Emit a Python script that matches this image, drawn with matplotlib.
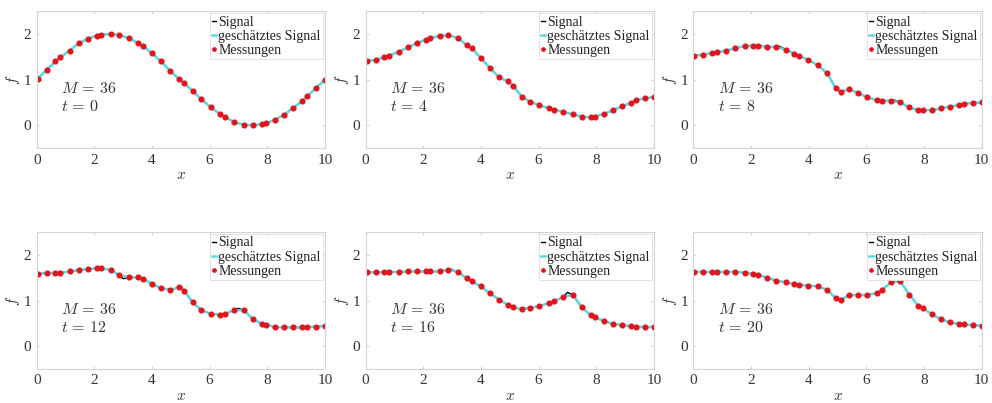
import matplotlib
matplotlib.use("Agg")
import matplotlib.pyplot as plt
import numpy as np

# Messpunkte (gleich in allen Panels)
x_mess = [0.03, 0.35, 0.65, 0.82, 1.14, 1.46, 1.78, 2.08, 2.23, 2.57,
          2.87, 3.21, 3.50, 3.68, 3.99, 4.31, 4.64, 4.94, 5.11, 5.41,
          5.71, 6.03, 6.37, 6.54, 6.86, 7.18, 7.49, 7.80, 7.95, 8.27,
          8.59, 8.90, 9.21, 9.39, 9.69, 10.0]

t_values = [0, 4, 8, 12, 16, 20]

f_t0 = [1.02, 1.22, 1.40, 1.49, 1.64, 1.80, 1.90, 1.97, 1.99, 2.00,
        1.98, 1.91, 1.81, 1.74, 1.59, 1.40, 1.19, 1.01, 0.93, 0.75,
        0.57, 0.40, 0.24, 0.17, 0.07, 0.01, 0.00, 0.02, 0.04, 0.12,
        0.23, 0.38, 0.53, 0.64, 0.82, 1.00]
f_t4 = [1.42, 1.43, 1.50, 1.53, 1.61, 1.71, 1.80, 1.88, 1.91, 1.96,
        1.98, 1.91, 1.76, 1.69, 1.48, 1.26, 1.05, 0.96, 0.87, 0.63,
        0.51, 0.44, 0.37, 0.34, 0.29, 0.24, 0.19, 0.17, 0.19, 0.25,
        0.33, 0.42, 0.49, 0.55, 0.59, 0.62]
f_t8 = [1.53, 1.55, 1.59, 1.60, 1.64, 1.69, 1.74, 1.75, 1.75, 1.72,
        1.72, 1.66, 1.57, 1.52, 1.43, 1.32, 1.14, 0.81, 0.73, 0.79,
        0.71, 0.61, 0.55, 0.53, 0.54, 0.50, 0.39, 0.33, 0.33, 0.33,
        0.37, 0.41, 0.44, 0.47, 0.49, 0.50]
f_t12 = [1.59, 1.60, 1.61, 1.61, 1.64, 1.67, 1.69, 1.71, 1.71, 1.67,
         1.56, 1.51, 1.51, 1.48, 1.37, 1.27, 1.24, 1.29, 1.22, 0.96,
         0.79, 0.71, 0.69, 0.71, 0.79, 0.79, 0.60, 0.49, 0.47, 0.42,
         0.41, 0.41, 0.41, 0.42, 0.43, 0.44]
f_t16 = [1.62, 1.62, 1.63, 1.63, 1.63, 1.64, 1.64, 1.64, 1.64, 1.64,
         1.68, 1.63, 1.49, 1.43, 1.31, 1.16, 1.02, 0.90, 0.85, 0.81,
         0.84, 0.88, 0.95, 0.99, 1.08, 1.13, 0.86, 0.68, 0.63, 0.55,
         0.49, 0.46, 0.44, 0.43, 0.42, 0.42]
f_t20 = [1.63, 1.63, 1.63, 1.63, 1.63, 1.63, 1.61, 1.59, 1.57, 1.50,
         1.44, 1.40, 1.36, 1.35, 1.33, 1.31, 1.24, 1.05, 1.02, 1.12,
         1.12, 1.12, 1.17, 1.24, 1.40, 1.42, 1.13, 0.89, 0.84, 0.70,
         0.59, 0.52, 0.49, 0.48, 0.46, 0.45]
f_all = [f_t0, f_t4, f_t8, f_t12, f_t16, f_t20]

# Spitzen des wahren Signals, die zwischen den Messpunkten liegen
peak_x = [[], [], [3.0, 7.0], [3.0, 5.0, 7.0], [2.95, 7.0], [5.05, 7.0]]
peak_f = [[], [], [1.73, 0.55], [1.48, 1.31, 0.83], [1.69, 1.18], [1.00, 1.60]]

plt.rcParams["font.family"] = ["Liberation Serif", "DejaVu Serif"]
plt.rcParams["mathtext.fontset"] = "cm"

fig = plt.figure(figsize=(9.92, 4.03), dpi=100)
lefts = [0.037, 0.3686, 0.699]
bottoms = [0.6328, 0.0846]
grey = "#333333"

for i, t in enumerate(t_values):
    ax = fig.add_axes([lefts[i % 3], bottoms[i // 3], 0.2906, 0.339])
    f = f_all[i]
    sx = np.array(x_mess + peak_x[i])
    sf = np.array(f + peak_f[i])
    order = np.argsort(sx)
    ax.plot(sx[order], sf[order], color="black", lw=1.0, label="Signal")
    ax.plot(x_mess, f, color="#55dbe3", lw=1.8, label="geschätztes Signal")
    ax.plot(x_mess, f, ls="none", marker="o", ms=3.4, color="#e3141c",
            label="Messungen")
    ax.set_xlim(0, 10)
    ax.set_ylim(-0.5, 2.5)
    ax.set_xticks([0, 2, 4, 6, 8, 10])
    ax.set_yticks([0, 1, 2])
    ax.tick_params(direction="in", length=2.5, width=0.6, color="#cccccc",
                   labelsize=11, labelcolor=grey, top=True, right=True, pad=4)
    for s in ax.spines.values():
        s.set_color("#d4d4d4")
        s.set_linewidth(0.8)
    ax.set_xlabel("$x$", fontsize=11, color=grey, labelpad=2)
    ax.set_ylabel("$f$", fontsize=11, color=grey, labelpad=1)
    ax.text(0.85, 0.71, r"$M\,=\,36$", fontsize=11.5, color=grey, va="baseline")
    ax.text(0.85, 0.31, r"$t\,=\,%d$" % t, fontsize=11.5, color=grey, va="baseline")
    leg = ax.legend(loc="upper right", fontsize=10, handlelength=0.3,
                    handletextpad=0.15, borderpad=0.15, labelspacing=0.1,
                    borderaxespad=0.15, fancybox=False, framealpha=1,
                    markerscale=0.7)
    leg.get_frame().set_edgecolor("#dddddd")
    leg.get_frame().set_linewidth(0.6)
    for txt in leg.get_texts():
        txt.set_color("#222222")

fig.savefig("out.png", dpi=100)
